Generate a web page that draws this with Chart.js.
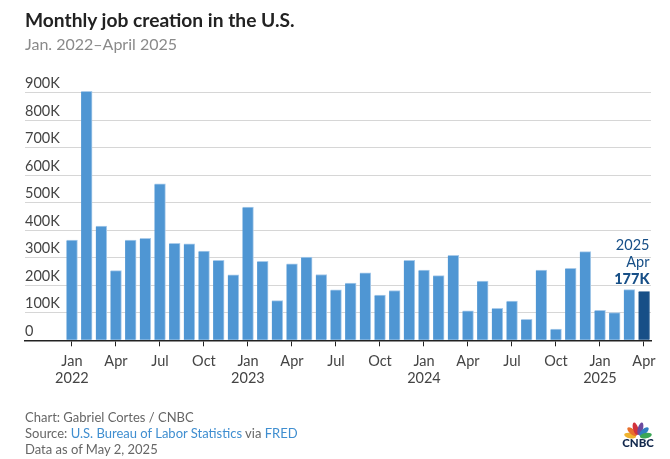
<!DOCTYPE html>
<html>
<head>
<meta charset="utf-8">
<script src="https://cdn.jsdelivr.net/npm/chart.js@4"></script>
<style>
  html, body { margin: 0; padding: 0; background: #fff; }
  body { width: 670px; height: 459px; position: relative; overflow: hidden; font-family: Lato, sans-serif; }
  #wrap { position: absolute; left: 0; top: 0; width: 670px; height: 459px; }
  .title { position: absolute; left: 25px; top: 8px; font-size: 19.2px; font-weight: 700; color: #222; white-space: nowrap; }
  .sub { position: absolute; left: 25px; top: 34px; font-size: 16px; color: #8a8a8a; white-space: nowrap; }
  .foot { position: absolute; left: 25px; top: 409px; font-size: 13px; line-height: 16px; color: #666; white-space: nowrap; }
  .foot span { color: #3f8ed0; }
  .logo { position: absolute; left: 620px; top: 420px; }
</style>
</head>
<body>
<div id="wrap"><canvas id="chart"></canvas></div>
<div class="title">Monthly job creation in the U.S.</div>
<div class="sub">Jan. 2022–April 2025</div>
<div class="foot">Chart: Gabriel Cortes / CNBC<br>Source: <span>U.S. Bureau of Labor Statistics</span> via <span>FRED</span><br>Data as of May 2, 2025</div>
<svg class="logo" width="36" height="30" viewBox="0 0 36 30">
  <g transform="translate(18,17)">
    <ellipse cx="0" cy="-8" rx="2.6" ry="6" fill="#f0b32e" transform="rotate(-80)"/>
    <ellipse cx="0" cy="-8" rx="2.6" ry="6" fill="#e8702c" transform="rotate(-48)"/>
    <ellipse cx="0" cy="-8.5" rx="2.6" ry="6.5" fill="#d1323c" transform="rotate(-16)"/>
    <ellipse cx="0" cy="-8.5" rx="2.6" ry="6.5" fill="#6c4a9e" transform="rotate(16)"/>
    <ellipse cx="0" cy="-8" rx="2.6" ry="6" fill="#2f7fc1" transform="rotate(48)"/>
    <ellipse cx="0" cy="-8" rx="2.6" ry="6" fill="#3aa655" transform="rotate(80)"/>
  </g>
  <text x="18" y="27" text-anchor="middle" font-family="Lato, sans-serif" font-weight="900" font-size="11.5" fill="#12284c">CNBC</text>
</svg>
<script>
const months = ['2022-01','2022-02','2022-03','2022-04','2022-05','2022-06','2022-07','2022-08','2022-09','2022-10','2022-11','2022-12',
  '2023-01','2023-02','2023-03','2023-04','2023-05','2023-06','2023-07','2023-08','2023-09','2023-10','2023-11','2023-12',
  '2024-01','2024-02','2024-03','2024-04','2024-05','2024-06','2024-07','2024-08','2024-09','2024-10','2024-11','2024-12',
  '2025-01','2025-02','2025-03','2025-04'];
const jobs = [364,904,415,253,364,370,568,352,350,324,290,238,
  484,287,144,278,302,239,183,208,245,164,181,290,
  255,235,309,107,215,116,142,76,255,41,261,322,
  109,101,184,177];
const tickPositions = [0,3,6,9,12,15,18,21,24,27,30,33,36,39];
const tickLabels = [['Jan','2022'],'Apr','Jul','Oct',['Jan','2023'],'Apr','Jul','Oct',['Jan','2024'],'Apr','Jul','Oct',['Jan','2025'],'Apr'];
const lastLabel = ['2025','Apr','177K'];

const textColor = '#444';
const barColor = '#4f96d3';
const barEdge = '#a9cbea';
const lastColor = '#174f87';

// 最後一根的標註
const lastLabelPlugin = {
  id: 'lastLabel',
  afterDatasetsDraw(chart) {
    const c = chart.ctx;
    const x = chart.scales.x.getPixelForValue(jobs.length - 1) + 5.5;
    const y = chart.scales.y.getPixelForValue(jobs[jobs.length - 1]);
    c.save();
    c.textAlign = 'right';
    c.textBaseline = 'middle';
    c.fillStyle = lastColor;
    c.font = '14.5px Lato';
    c.fillText(lastLabel[0], x, y - 46);
    c.fillText(lastLabel[1], x, y - 29);
    c.font = '900 14.5px Lato';
    c.fillText(lastLabel[2], x, y - 12);
    c.restore();
  }
};

new Chart(document.getElementById('chart'), {
  type: 'bar',
  data: {
    datasets: [{
      data: jobs.map((v, i) => ({ x: i, y: v })),
      backgroundColor: jobs.map((v, i) => i === jobs.length - 1 ? lastColor : barColor),
      borderColor: jobs.map((v, i) => i === jobs.length - 1 ? lastColor : barEdge),
      borderWidth: { top: 1, left: 0, right: 1, bottom: 0 },
      barThickness: 11,
      clip: false
    }]
  },
  options: {
    responsive: true,
    maintainAspectRatio: false,
    animation: false,
    layout: { padding: { left: 25, right: 19, top: 92.5, bottom: 58.7 } },
    plugins: { legend: { display: false }, tooltip: { enabled: false } },
    scales: {
      x: {
        type: 'linear',
        offset: false,
        min: -3.2,
        max: 39.48,
        afterBuildTicks(scale) { scale.ticks = tickPositions.map(v => ({ value: v })); },
        afterFit(scale) { scale.height = 60; },
        grid: { offset: false, drawOnChartArea: false, drawTicks: true, tickLength: 6, tickColor: '#222', tickWidth: 1 },
        border: { display: true, color: '#222', width: 1.5 },
        ticks: {
          autoSkip: false,
          maxRotation: 0,
          padding: 6,
          color: textColor,
          font: { family: 'Lato', size: 14.5, lineHeight: 1.2 },
          callback: v => tickLabels[tickPositions.indexOf(v)]
        }
      },
      y: {
        min: 0,
        max: 900,
        grid: { color: '#d6d6d6', drawTicks: false, lineWidth: 1 },
        border: { display: false },
        ticks: {
          stepSize: 100,
          mirror: true,
          padding: 0,
          labelOffset: -9,
          color: textColor,
          font: { family: 'Lato', size: 14.5 },
          callback: v => v === 0 ? '0' : v + 'K'
        }
      }
    }
  },
  plugins: [lastLabelPlugin]
});
</script>
</body>
</html>
